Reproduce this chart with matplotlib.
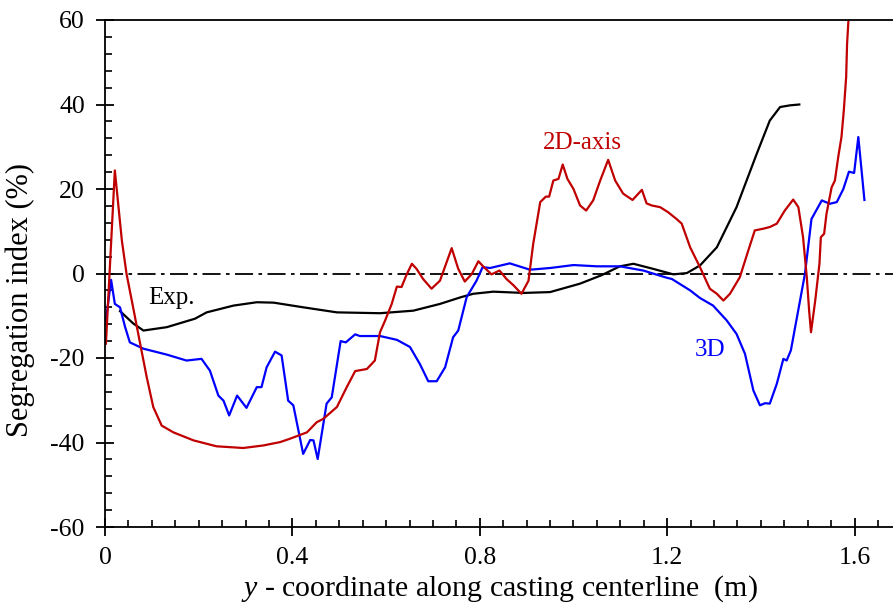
import matplotlib
matplotlib.use("Agg")
import matplotlib.pyplot as plt
from matplotlib.ticker import MultipleLocator

plt.rcParams['font.family'] = ['Liberation Serif', 'DejaVu Serif']
plt.rcParams['mathtext.fontset'] = 'custom'
plt.rcParams['mathtext.rm'] = 'Liberation Serif'
plt.rcParams['mathtext.it'] = 'Liberation Serif:italic'
plt.rcParams['axes.unicode_minus'] = False

# Experimental
exp_x = [0.032, 0.060, 0.082, 0.132, 0.192, 0.217, 0.274, 0.324, 0.360, 0.423, 0.495, 0.587,
         0.658, 0.715, 0.760, 0.786, 0.829, 0.893, 0.950, 1.014, 1.060, 1.099, 1.128, 1.170,
         1.213, 1.242, 1.270, 1.306, 1.348, 1.391, 1.419, 1.441, 1.462, 1.482]
exp_y = [-8.9, -11.8, -13.5, -12.7, -10.7, -9.2, -7.6, -6.8, -6.9, -8.0, -9.2, -9.4,
         -8.8, -7.2, -5.6, -4.8, -4.3, -4.6, -4.4, -2.4, -0.4, 1.7, 2.3, 1.1,
         -0.2, 0.1, 1.9, 6.2, 15.7, 28.3, 36.2, 39.4, 39.8, 40.0]

# 3D simulation
d3_x = [0.002, 0.013, 0.021, 0.032, 0.043, 0.053, 0.082, 0.132, 0.174, 0.206, 0.224, 0.242,
        0.253, 0.265, 0.282, 0.302, 0.324, 0.334, 0.345, 0.363, 0.377, 0.391, 0.402, 0.423,
        0.438, 0.445, 0.454, 0.473, 0.484, 0.503, 0.514, 0.534, 0.544, 0.587, 0.623, 0.651,
        0.672, 0.690, 0.708, 0.726, 0.743, 0.754, 0.772, 0.793, 0.806, 0.822, 0.864, 0.907,
        0.950, 1.000, 1.050, 1.099, 1.149, 1.199, 1.210, 1.249, 1.270, 1.298, 1.327, 1.348,
        1.366, 1.384, 1.398, 1.409, 1.419, 1.434, 1.448, 1.455, 1.464, 1.494, 1.508, 1.530,
        1.547, 1.562, 1.576, 1.588, 1.599, 1.608, 1.621]
d3_y = [-11.1, -1.5, -7.2, -8.0, -12.7, -16.3, -17.8, -19.2, -20.6, -20.2, -23.0, -28.9,
        -30.1, -33.6, -28.9, -31.8, -26.9, -26.9, -22.2, -18.5, -19.4, -30.1, -31.2, -42.7,
        -39.4, -39.5, -43.9, -30.8, -29.3, -16.0, -16.3, -14.4, -14.8, -14.8, -15.7, -17.4,
        -21.4, -25.5, -25.5, -22.2, -15.1, -13.5, -5.6, -1.7, 1.5, 1.3, 2.4, 0.9,
        1.3, 2.0, 1.7, 1.7, 0.7, -1.0, -1.3, -4.0, -5.8, -7.6, -11.1, -14.3,
        -19.0, -27.7, -31.2, -30.7, -30.8, -26.1, -20.2, -20.6, -18.2, -0.1, 12.9, 17.3,
        16.5, 16.9, 20.0, 24.1, 23.8, 32.3, 17.4]

# 2D-axisymmetric simulation
ax2_x = [0.002, 0.021, 0.036, 0.046, 0.060, 0.075, 0.089, 0.103, 0.121, 0.146, 0.189, 0.238,
         0.295, 0.338, 0.374, 0.395, 0.431, 0.452, 0.466, 0.495, 0.516, 0.534, 0.559, 0.576,
         0.587, 0.598, 0.612, 0.623, 0.633, 0.644, 0.655, 0.665, 0.679, 0.697, 0.715, 0.740,
         0.754, 0.768, 0.783, 0.797, 0.807, 0.825, 0.842, 0.857, 0.872, 0.889, 0.904, 0.914,
         0.929, 0.941, 0.948, 0.957, 0.968, 0.977, 0.987, 1.000, 1.014, 1.027, 1.042, 1.057,
         1.074, 1.089, 1.106, 1.126, 1.146, 1.156, 1.167, 1.185, 1.202, 1.220, 1.231, 1.249,
         1.270, 1.291, 1.306, 1.320, 1.334, 1.355, 1.373, 1.387, 1.405, 1.419, 1.434, 1.451,
         1.469, 1.480, 1.490, 1.498, 1.503, 1.507, 1.516, 1.525, 1.528, 1.535, 1.540, 1.551,
         1.558, 1.565, 1.572, 1.577, 1.582, 1.584, 1.588]
ax2_y = [-16.6, 24.4, 7.8, -0.1, -8.0, -16.6, -24.5, -31.6, -36.0, -37.6, -39.5, -40.9,
         -41.3, -40.7, -39.9, -39.1, -37.6, -35.2, -34.4, -31.6, -26.9, -23.1, -22.6, -20.6,
         -13.9, -11.1, -7.2, -3.1, -3.2, -0.2, 2.3, 1.1, -1.3, -3.6, -1.7, 6.0,
         1.1, -1.9, -0.1, 2.9, 1.7, -0.2, 0.7, -1.3, -2.8, -4.8, -1.7, 7.0,
         16.9, 18.2, 18.2, 22.0, 22.4, 25.8, 22.4, 20.0, 16.1, 14.9, 17.3, 22.0,
         26.9, 22.0, 18.9, 17.4, 19.8, 16.6, 16.1, 15.7, 14.5, 12.9, 11.8, 6.2,
         1.5, -3.6, -4.8, -6.4, -4.8, -0.9, 5.4, 10.2, 10.6, 11.0, 11.8, 14.9,
         17.5, 15.7, 8.6, -0.9, -8.8, -13.9, -6.4, 2.3, 8.6, 9.4, 14.1, 20.4,
         22.0, 27.5, 32.3, 38.6, 46.5, 54.4, 62.0]

x_ticks = [0, 0.4, 0.8, 1.2, 1.6]
x_ticklabels = ['0', '0.4', '0.8', '1.2', '1.6']
y_ticks = [-60, -40, -20, 0, 20, 40, 60]
y_ticklabels = ['-60', '-40', '-20', '0', '20', '40', '60']

fig = plt.figure(figsize=(8.93, 6.13), dpi=100)
ax = fig.add_axes([105/893, 1-527/613, 1-105/893, (527-20)/613])

ax.axhline(0, color='black', lw=1.3, dashes=(10, 3, 2, 3))
ax.plot(exp_x, exp_y, color='black', lw=1.6)
ax.plot(d3_x, d3_y, color='#0000ff', lw=1.6)
ax.plot(ax2_x, ax2_y, color='#c00000', lw=1.6)

ax.set_xlim(0, 1.682)
ax.set_ylim(-60, 60)
ax.set_xticks(x_ticks)
ax.set_xticklabels(x_ticklabels)
ax.set_yticks(y_ticks)
ax.set_yticklabels(y_ticklabels)
ax.xaxis.set_minor_locator(MultipleLocator(0.05))
ax.yaxis.set_minor_locator(MultipleLocator(4))
ax.tick_params(which='major', direction='inout', length=13, width=1.3, labelsize=18.5, pad=8)
ax.tick_params(which='minor', direction='in', length=5, width=1.2)
ax.spines['right'].set_visible(False)
for s in ['left', 'bottom', 'top']:
    ax.spines[s].set_linewidth(1.3)

ax.set_xlabel(r'$y$ - coordinate along casting centerline  (m)', fontsize=21.5, labelpad=3)
ax.set_ylabel('Segregation index (%)', fontsize=22)
ax.yaxis.set_label_coords(-0.089, 0.448)

ax.text(0.141, -5.7, 'Exp.', color='black', fontsize=18, ha='center', va='center')
ax.text(1.018, 30.8, '2D-axis', color='#c00000', fontsize=18, ha='center', va='center')
ax.text(1.291, -18.0, '3D', color='#0000ff', fontsize=18, ha='center', va='center')

fig.savefig('out.png', dpi=100)
